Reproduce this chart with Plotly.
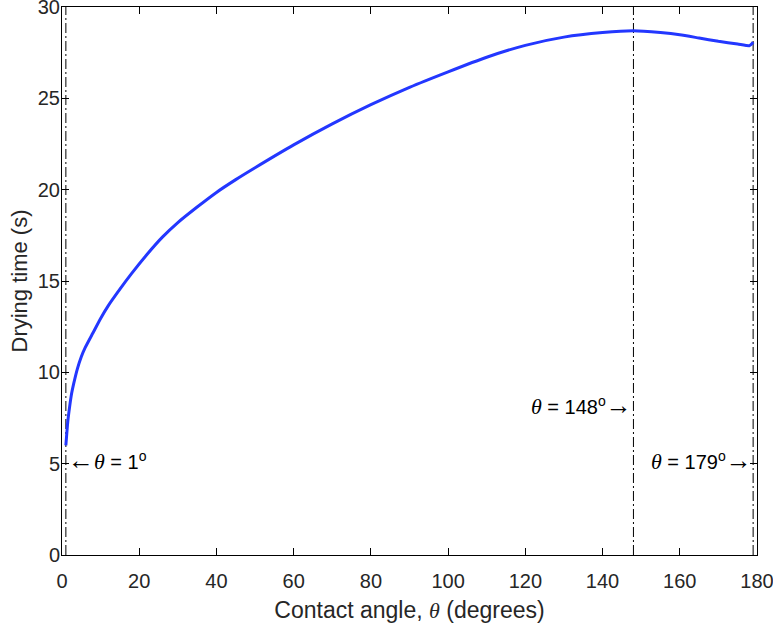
import plotly.graph_objects as go

# Curve data
contact_angle = [1, 1.5, 2, 2.5, 3, 4, 5, 6, 8, 10, 12, 15, 18, 22, 26, 30, 35, 40, 45, 50,
                 60, 70, 80, 90, 100, 110, 120, 130, 140, 148, 155, 160, 165, 170, 175, 178,
                 178.5, 179]
drying_time = [6.0, 7.3, 8.15, 8.85, 9.35, 10.2, 10.85, 11.35, 12.15, 12.95, 13.65, 14.55,
               15.4, 16.45, 17.4, 18.2, 19.05, 19.85, 20.55, 21.2, 22.45, 23.6, 24.65, 25.6,
               26.45, 27.25, 27.9, 28.35, 28.6, 28.7, 28.6, 28.48, 28.3, 28.12, 27.97, 27.88,
               27.95, 28.08]

marker_angles = [1, 148, 179]
marker_label_y = [5.2, 8.2, 5.15]
y_range = [0, 30]
x_ticks = [0, 20, 40, 60, 80, 100, 120, 140, 160, 180]
y_ticks = [0, 5, 10, 15, 20, 25, 30]

THETA = "<span style='font-family:\"Liberation Serif\", \"DejaVu Serif\", serif;font-size:22px'><i>θ</i></span>"
LARR = "<span style='font-family:\"Liberation Serif\", serif;font-size:26px'>←</span>"
RARR = "<span style='font-family:\"Liberation Serif\", serif;font-size:26px'>→</span>"
FONT = "Liberation Sans, Arial, sans-serif"
TXT = "#262626"

fig = go.Figure()

for a in marker_angles:
    fig.add_trace(go.Scatter(x=[a, a], y=y_range, mode="lines",
                             line=dict(color="black", width=1, dash="10px,3px,2px,3px"),
                             hoverinfo="skip", showlegend=False))

fig.add_trace(go.Scatter(x=contact_angle, y=drying_time, mode="lines",
                         line=dict(color="rgb(35,55,255)", width=3, shape="spline", smoothing=0.5),
                         showlegend=False))

labels = [
    (LARR + THETA + " = 1<sup>o</sup>", "left"),
    (THETA + " = 148<sup>o</sup>" + RARR, "right"),
    (THETA + " = 179<sup>o</sup>" + RARR, "right"),
]
for (txt, anchor), a, yy in zip(labels, marker_angles, marker_label_y):
    fig.add_annotation(x=a, y=yy, xref="x", yref="y", text=txt, showarrow=False,
                       xanchor=anchor, yanchor="middle",
                       xshift=0 if anchor == "left" else 1,
                       font=dict(family=FONT, size=20, color="black"))

axis_common = dict(showline=True, linecolor="black", linewidth=1, mirror="ticks",
                   ticks="inside", ticklen=7, tickcolor="black", tickwidth=1,
                   showgrid=False, zeroline=False, ticklabeloverflow="allow",
                   tickfont=dict(family=FONT, size=20, color=TXT))

fig.update_xaxes(range=[0, 180], tickvals=x_ticks, ticklabelstandoff=8,
                 title=dict(text="Contact angle, " + THETA + " (degrees)",
                            font=dict(family=FONT, size=23, color=TXT), standoff=12),
                 **axis_common)
fig.update_yaxes(range=y_range, tickvals=y_ticks, ticklabelstandoff=-3,
                 title=dict(text="Drying time (s)",
                            font=dict(family=FONT, size=22, color=TXT), standoff=4),
                 **axis_common)

fig.update_layout(width=773, height=623,
                  margin=dict(l=62, r=16, t=7, b=68, autoexpand=False),
                  plot_bgcolor="white", paper_bgcolor="white")

fig.write_html("out.html", config={"displayModeBar": False},
               post_script="document.body.style.margin='0px';")
